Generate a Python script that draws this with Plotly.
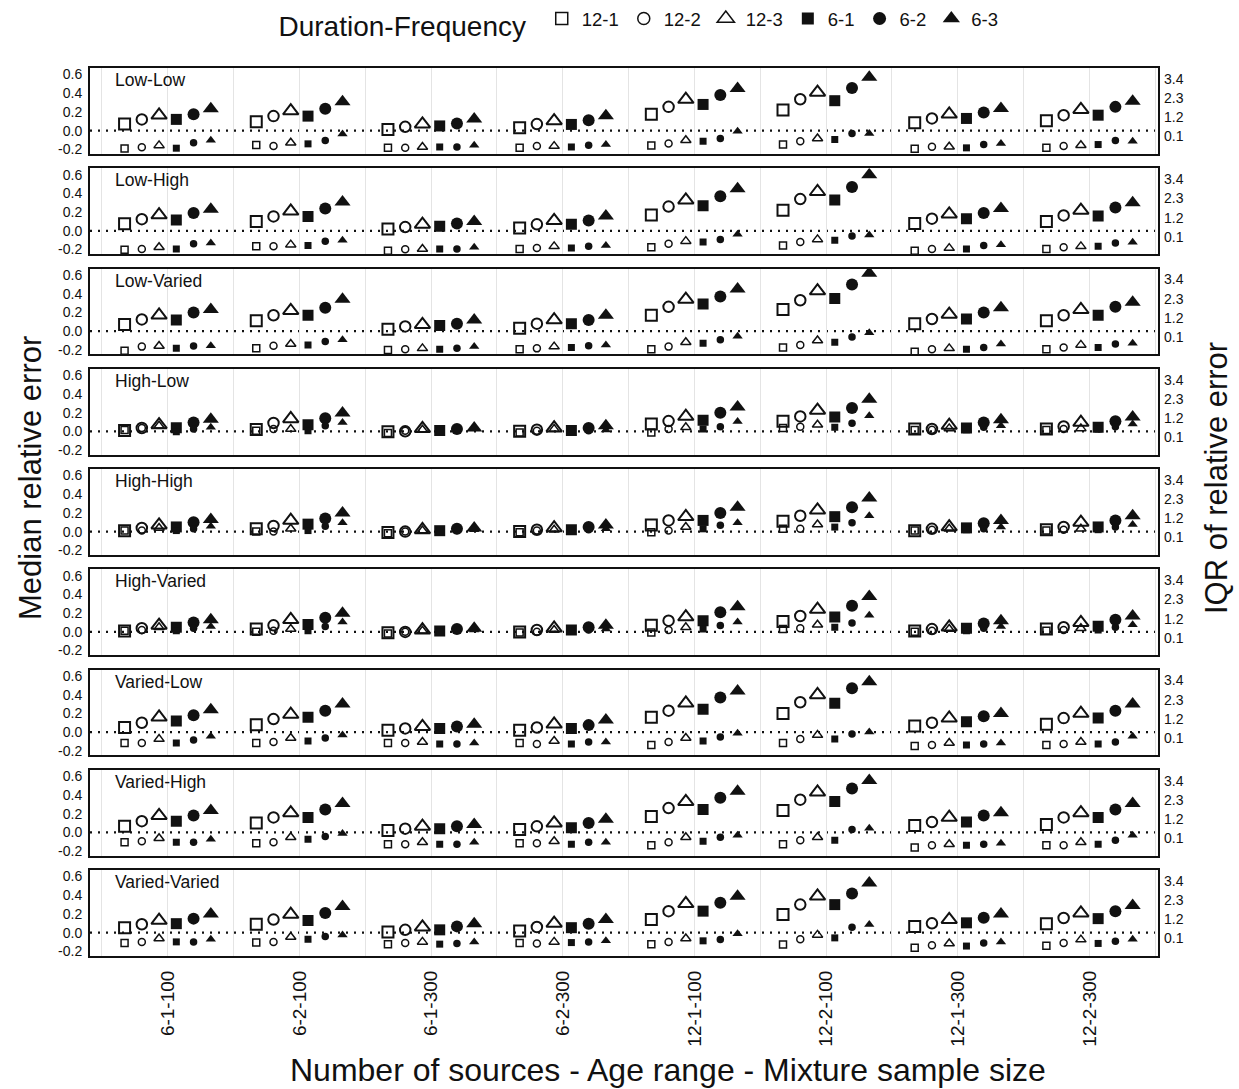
import plotly.graph_objects as go
from plotly.subplots import make_subplots

groups = ["6-1-100", "6-2-100", "6-1-300", "6-2-300",
          "12-1-100", "12-2-100", "12-1-300", "12-2-300"]
series = ["12-1", "12-2", "12-3", "6-1", "6-2", "6-3"]
panels = ["Low-Low", "Low-High", "Low-Varied", "High-Low", "High-High",
          "High-Varied", "Varied-Low", "Varied-High", "Varied-Varied"]

# Median relative error (left axis); rows = series 12-1,12-2,12-3,6-1,6-2,6-3; cols = groups
ll_med = [[0.07, 0.094, 0.013, 0.03, 0.176, 0.22, 0.083, 0.105],
          [0.12, 0.155, 0.04, 0.07, 0.254, 0.336, 0.13, 0.165],
          [0.165, 0.21, 0.07, 0.105, 0.333, 0.41, 0.176, 0.225],
          [0.12, 0.155, 0.05, 0.066, 0.28, 0.32, 0.13, 0.165],
          [0.175, 0.235, 0.077, 0.11, 0.38, 0.457, 0.194, 0.254],
          [0.235, 0.31, 0.125, 0.16, 0.45, 0.57, 0.237, 0.315]]
ll_iqr = [[-0.58, -0.38, -0.55, -0.55, -0.41, -0.36, -0.6, -0.55],
          [-0.51, -0.44, -0.55, -0.45, -0.3, -0.17, -0.49, -0.45],
          [-0.41, -0.26, -0.5, -0.45, -0.11, -0.01, -0.49, -0.4],
          [-0.57, -0.32, -0.5, -0.5, -0.17, -0.07, -0.55, -0.36],
          [-0.26, -0.13, -0.5, -0.4, -0.01, 0.27, -0.36, -0.13],
          [-0.11, 0.25, -0.4, -0.36, 0.4, 0.27, -0.3, -0.17]]

lh_med = [[0.075, 0.1, 0.02, 0.03, 0.17, 0.22, 0.08, 0.10],
          [0.125, 0.155, 0.04, 0.07, 0.26, 0.34, 0.13, 0.165],
          [0.17, 0.21, 0.07, 0.11, 0.33, 0.42, 0.18, 0.22],
          [0.117, 0.155, 0.05, 0.07, 0.27, 0.33, 0.13, 0.16],
          [0.19, 0.24, 0.08, 0.11, 0.37, 0.47, 0.19, 0.25],
          [0.23, 0.31, 0.1, 0.16, 0.45, 0.6, 0.24, 0.30]]
lh_iqr = [[-0.64, -0.45, -0.7, -0.6, -0.5, -0.4, -0.7, -0.6],
          [-0.6, -0.45, -0.62, -0.55, -0.3, -0.2, -0.6, -0.5],
          [-0.5, -0.35, -0.6, -0.45, -0.15, -0.05, -0.55, -0.45],
          [-0.6, -0.4, -0.6, -0.55, -0.2, -0.1, -0.6, -0.45],
          [-0.3, -0.15, -0.6, -0.45, -0.05, 0.15, -0.4, -0.25],
          [-0.25, -0.1, -0.5, -0.4, 0.25, 0.2, -0.35, -0.22]]

lv_med = [[0.07, 0.11, 0.02, 0.03, 0.17, 0.23, 0.08, 0.11],
          [0.125, 0.17, 0.05, 0.08, 0.26, 0.33, 0.13, 0.17],
          [0.17, 0.22, 0.07, 0.12, 0.34, 0.43, 0.18, 0.23],
          [0.12, 0.17, 0.06, 0.08, 0.29, 0.35, 0.13, 0.17],
          [0.2, 0.25, 0.08, 0.12, 0.37, 0.5, 0.2, 0.26],
          [0.23, 0.34, 0.12, 0.17, 0.45, 0.62, 0.25, 0.31]]
lv_iqr = [[-0.69, -0.55, -0.65, -0.6, -0.6, -0.5, -0.75, -0.6],
          [-0.45, -0.4, -0.6, -0.55, -0.45, -0.35, -0.6, -0.5],
          [-0.41, -0.3, -0.55, -0.45, -0.2, -0.1, -0.55, -0.35],
          [-0.54, -0.35, -0.6, -0.5, -0.25, -0.2, -0.6, -0.5],
          [-0.41, -0.15, -0.55, -0.4, -0.05, 0.1, -0.5, -0.3],
          [-0.4, -0.05, -0.45, -0.35, 0.15, 0.35, -0.3, -0.25]]

hl_med = [[0.01, 0.02, -0.005, 0.0, 0.08, 0.107, 0.025, 0.025],
          [0.036, 0.09, 0.0, 0.018, 0.11, 0.16, 0.025, 0.053],
          [0.07, 0.135, 0.03, 0.036, 0.16, 0.225, 0.064, 0.096],
          [0.04, 0.07, 0.01, 0.01, 0.12, 0.155, 0.036, 0.043],
          [0.096, 0.14, 0.025, 0.036, 0.2, 0.25, 0.096, 0.107],
          [0.13, 0.196, 0.036, 0.06, 0.26, 0.345, 0.125, 0.155]]
hl_iqr = [[0.52, 0.48, 0.35, 0.38, 0.38, 0.63, 0.52, 0.52],
          [0.63, 0.57, 0.48, 0.48, 0.57, 0.7, 0.53, 0.57],
          [0.76, 0.57, 0.53, 0.57, 0.67, 0.82, 0.61, 0.61],
          [0.42, 0.48, 0.48, 0.48, 0.57, 0.67, 0.53, 0.57],
          [0.57, 0.76, 0.57, 0.48, 0.7, 0.91, 0.67, 0.7],
          [0.67, 0.95, 0.6, 0.52, 1.0, 1.33, 0.76, 0.86]]

hh_med = [[0.01, 0.03, -0.01, 0.0, 0.07, 0.11, 0.01, 0.02],
          [0.04, 0.06, 0.0, 0.02, 0.12, 0.17, 0.03, 0.05],
          [0.07, 0.12, 0.02, 0.04, 0.16, 0.23, 0.05, 0.1],
          [0.05, 0.08, 0.01, 0.02, 0.12, 0.16, 0.04, 0.05],
          [0.1, 0.14, 0.03, 0.05, 0.2, 0.26, 0.09, 0.12],
          [0.13, 0.2, 0.04, 0.07, 0.26, 0.36, 0.12, 0.17]]
hh_iqr = [[0.5, 0.45, 0.35, 0.4, 0.4, 0.6, 0.5, 0.5],
          [0.5, 0.45, 0.45, 0.5, 0.5, 0.6, 0.55, 0.55],
          [0.65, 0.6, 0.5, 0.55, 0.7, 0.85, 0.6, 0.6],
          [0.5, 0.5, 0.45, 0.5, 0.6, 0.7, 0.55, 0.55],
          [0.6, 0.75, 0.5, 0.55, 0.8, 0.95, 0.6, 0.7],
          [0.75, 0.95, 0.55, 0.6, 0.95, 1.35, 0.7, 0.85]]

hv_med = [[0.01, 0.03, -0.01, 0.0, 0.07, 0.11, 0.01, 0.03],
          [0.04, 0.07, 0.0, 0.02, 0.12, 0.17, 0.03, 0.05],
          [0.07, 0.13, 0.02, 0.04, 0.16, 0.24, 0.05, 0.1],
          [0.05, 0.08, 0.01, 0.02, 0.12, 0.16, 0.04, 0.06],
          [0.1, 0.15, 0.03, 0.05, 0.21, 0.28, 0.09, 0.13],
          [0.13, 0.2, 0.04, 0.07, 0.27, 0.38, 0.12, 0.17]]
hv_iqr = [[0.5, 0.45, 0.35, 0.4, 0.4, 0.6, 0.45, 0.5],
          [0.55, 0.5, 0.45, 0.45, 0.55, 0.65, 0.5, 0.55],
          [0.7, 0.6, 0.5, 0.55, 0.7, 0.85, 0.6, 0.65],
          [0.5, 0.5, 0.45, 0.5, 0.6, 0.7, 0.5, 0.55],
          [0.65, 0.75, 0.55, 0.55, 0.8, 0.95, 0.65, 0.7],
          [0.75, 1.0, 0.55, 0.6, 1.0, 1.4, 0.75, 0.85]]

vl_med = [[0.05, 0.08, 0.02, 0.02, 0.16, 0.2, 0.065, 0.085],
          [0.1, 0.14, 0.04, 0.05, 0.23, 0.32, 0.1, 0.15],
          [0.16, 0.19, 0.06, 0.085, 0.31, 0.4, 0.15, 0.2],
          [0.12, 0.16, 0.04, 0.04, 0.245, 0.31, 0.11, 0.15],
          [0.18, 0.23, 0.06, 0.075, 0.37, 0.47, 0.17, 0.23],
          [0.24, 0.3, 0.085, 0.13, 0.44, 0.54, 0.2, 0.3]]
vl_iqr = [[-0.18, -0.18, -0.18, -0.18, -0.3, -0.18, -0.36, -0.3],
          [-0.18, -0.13, -0.18, -0.24, -0.13, 0.04, -0.3, -0.24],
          [0.04, 0.1, -0.13, -0.07, 0.1, 0.27, -0.18, -0.13],
          [-0.18, -0.07, -0.24, -0.24, -0.07, 0.04, -0.3, -0.24],
          [-0.01, 0.1, -0.24, -0.13, 0.16, 0.33, -0.24, -0.13],
          [0.21, 0.27, -0.18, -0.13, 0.38, 0.44, -0.18, 0.21]]

vh_med = [[0.065, 0.1, 0.02, 0.03, 0.17, 0.235, 0.075, 0.085],
          [0.12, 0.16, 0.04, 0.065, 0.26, 0.35, 0.11, 0.16],
          [0.18, 0.21, 0.065, 0.1, 0.33, 0.43, 0.16, 0.21],
          [0.12, 0.16, 0.04, 0.05, 0.245, 0.33, 0.11, 0.16],
          [0.18, 0.245, 0.065, 0.1, 0.37, 0.47, 0.18, 0.245],
          [0.235, 0.31, 0.085, 0.14, 0.44, 0.555, 0.21, 0.31]]
vh_iqr = [[-0.13, -0.18, -0.24, -0.18, -0.3, -0.24, -0.42, -0.3],
          [-0.07, -0.13, -0.24, -0.18, -0.13, -0.01, -0.3, -0.3],
          [0.1, 0.16, -0.13, -0.07, 0.16, 0.16, -0.24, -0.13],
          [-0.13, 0.04, -0.24, -0.24, -0.07, -0.01, -0.3, -0.24],
          [-0.13, 0.21, -0.24, -0.13, 0.16, 0.6, -0.24, -0.01],
          [0.04, 0.38, -0.13, -0.13, 0.27, 0.67, -0.18, 0.27]]

vv_med = [[0.053, 0.09, 0.007, 0.018, 0.14, 0.195, 0.067, 0.096],
          [0.09, 0.14, 0.03, 0.06, 0.23, 0.3, 0.1, 0.157],
          [0.13, 0.195, 0.06, 0.1, 0.31, 0.39, 0.14, 0.21],
          [0.096, 0.13, 0.03, 0.053, 0.23, 0.3, 0.105, 0.15],
          [0.15, 0.21, 0.067, 0.096, 0.32, 0.42, 0.16, 0.23],
          [0.2, 0.28, 0.096, 0.14, 0.39, 0.53, 0.2, 0.29]]
vv_iqr = [[-0.15, -0.13, -0.22, -0.15, -0.22, -0.24, -0.43, -0.31],
          [-0.09, -0.09, -0.15, -0.18, -0.09, 0.06, -0.28, -0.15],
          [0.1, 0.19, -0.09, -0.09, 0.1, 0.31, -0.18, 0.04],
          [-0.09, 0.06, -0.22, -0.13, -0.03, 0.14, -0.33, -0.18],
          [-0.09, 0.22, -0.18, -0.09, 0.04, 0.75, -0.15, -0.05],
          [0.06, 0.31, -0.09, -0.03, 0.38, 0.9, -0.09, 0.06]]

left_ticks = [-0.2, 0.0, 0.2, 0.4, 0.6]
right_ticks = [0.1, 1.2, 2.3, 3.4]

medians = [ll_med, lh_med, lv_med, hl_med, hh_med, hv_med, vl_med, vh_med, vv_med]
iqrs = [ll_iqr, lh_iqr, lv_iqr, hl_iqr, hh_iqr, hv_iqr, vl_iqr, vh_iqr, vv_iqr]

# ---- styling ----
FONT = "Arial, Liberation Sans, sans-serif"
INK = "#111111"
symbols = ["square-open", "circle-open", "triangle-up-open", "square", "circle", "triangle-up"]
big_size = [11, 10.5, 13.5, 11, 12, 14]
small_size = [7, 7, 9, 7, 7.5, 9]
legend_size = [12, 12, 15, 12, 13, 15]
dodge = 0.131

nrows = len(panels)
fig = make_subplots(rows=nrows, cols=1, shared_xaxes=True,
                    vertical_spacing=0.0161,
                    specs=[[{"secondary_y": True}] for _ in range(nrows)])

# legend entries
for k in range(len(series)):
    openm = symbols[k].endswith("open")
    fig.add_trace(go.Scatter(
        x=[None], y=[None], mode="markers", name=series[k], legendgroup=series[k],
        marker=dict(symbol=symbols[k], size=legend_size[k], color=INK,
                    line=dict(width=1.5 if openm else 0, color=INK))),
        row=1, col=1, secondary_y=False)

for p in range(nrows):
    r = p + 1
    for k in range(len(series)):
        xs = [g + 1 + (k - 2.5) * dodge for g in range(len(groups))]
        openm = symbols[k].endswith("open")
        fig.add_trace(go.Scatter(
            x=xs, y=medians[p][k], mode="markers", name=series[k],
            legendgroup=series[k], showlegend=False,
            marker=dict(symbol=symbols[k], size=big_size[k], color=INK,
                        line=dict(width=2 if openm else 0, color=INK))),
            row=r, col=1, secondary_y=False)
        fig.add_trace(go.Scatter(
            x=xs, y=iqrs[p][k], mode="markers", name=series[k],
            legendgroup=series[k], showlegend=False,
            marker=dict(symbol=symbols[k], size=small_size[k], color=INK,
                        line=dict(width=1.5 if openm else 0, color=INK))),
            row=r, col=1, secondary_y=True)

    sp = fig.get_subplot(r, 1)
    xname = sp.xaxis.plotly_name.replace("axis", "")
    yname = sp.yaxis.plotly_name.replace("axis", "")
    fig.add_shape(type="line", xref=xname + " domain", x0=0, x1=1,
                  yref=yname, y0=0, y1=0, layer="below",
                  line=dict(color=INK, width=2.2, dash="2px,6px"))
    fig.add_annotation(text=panels[p], xref=xname + " domain", yref=yname + " domain",
                       x=0.022, y=0.86, xanchor="left", yanchor="middle",
                       showarrow=False, font=dict(family=FONT, size=17.5, color=INK))

grid_minor = [g + 0.5 for g in range(len(groups) + 1)]
fig.update_xaxes(domain=[0, 1], range=[0.41, 8.52], tickvals=list(range(1, len(groups) + 1)),
                 ticktext=groups, showgrid=True, gridcolor="#e4e4e4", gridwidth=1,
                 minor=dict(tickvals=grid_minor, showgrid=True, gridcolor="#e4e4e4", gridwidth=1),
                 showline=True, linecolor=INK, linewidth=2, mirror=True,
                 ticks="", zeroline=False, tickangle=-90,
                 tickfont=dict(family=FONT, size=19, color=INK))
for r in range(1, nrows):
    fig.update_xaxes(showticklabels=False, row=r, col=1)
fig.update_xaxes(showticklabels=True, ticklabelstandoff=5, row=nrows, col=1)

fig.update_yaxes(range=[-0.25, 0.67], tickvals=left_ticks,
                 ticktext=["%.1f" % v for v in left_ticks],
                 showgrid=False, zeroline=False, showline=True, linecolor=INK,
                 linewidth=2, mirror=True, ticks="", ticklabelstandoff=3,
                 tickfont=dict(family=FONT, size=14, color=INK), secondary_y=False)
fig.update_yaxes(range=[-0.9, 4.03], tickvals=right_ticks,
                 ticktext=["%.1f" % v for v in right_ticks],
                 showgrid=False, zeroline=False, showline=False, ticks="",
                 ticklabelstandoff=5,
                 tickfont=dict(family=FONT, size=14, color=INK), secondary_y=True)

L, R, T, B = 90, 81, 68, 133
W, H = 1239, 1089
PW, PH = W - L - R, H - T - B

fig.add_annotation(text="Median relative error", xref="paper", yref="paper",
                   x=(30 - L) / PW, y=1 - (478 - T) / PH, textangle=-90,
                   showarrow=False, xanchor="center", yanchor="middle",
                   font=dict(family=FONT, size=31, color=INK))
fig.add_annotation(text="IQR of relative error", xref="paper", yref="paper",
                   x=(1216 - L) / PW, y=1 - (478 - T) / PH, textangle=-90,
                   showarrow=False, xanchor="center", yanchor="middle",
                   font=dict(family=FONT, size=31, color=INK))
fig.add_annotation(text="Number of sources - Age range - Mixture sample size",
                   xref="paper", yref="paper", x=(668 - L) / PW, y=-(1070 - (H - B)) / PH,
                   showarrow=False, xanchor="center", yanchor="middle",
                   font=dict(family=FONT, size=32, color=INK))

fig.update_layout(
    width=W, height=H, margin=dict(l=L, r=R, t=T, b=B),
    paper_bgcolor="white", plot_bgcolor="white",
    font=dict(family=FONT, color=INK),
    legend=dict(orientation="h", xref="container", yref="container",
                x=640 / W, xanchor="center", y=1.0, yanchor="top",
                title=dict(text="Duration-Frequency ", font=dict(size=28, family=FONT, color=INK)),
                font=dict(size=18.5, family=FONT, color=INK), itemwidth=30,
                bgcolor="rgba(0,0,0,0)"),
)

fig.write_html("out.html")
